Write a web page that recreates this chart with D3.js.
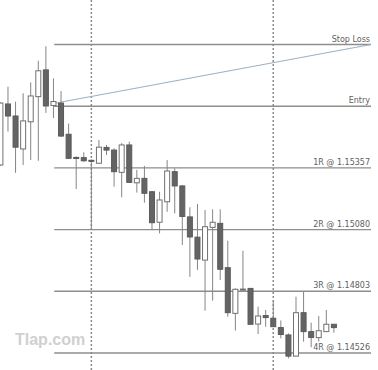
<!DOCTYPE html>
<html>
<head>
<meta charset="utf-8">
<script src="https://cdn.jsdelivr.net/npm/d3@7"></script>
<style>
  body { margin: 0; background: #fff; }
  svg { display: block; }
</style>
</head>
<body>
<svg id="chart" width="378" height="370"></svg>
<script>
// candles (EURUSD-like prices)
var opens  = [1.15370, 1.15644, 1.15590, 1.15442, 1.15564, 1.15677, 1.15797, 1.15637, 1.15648, 1.15508,
              1.15404, 1.15403, 1.15391, 1.15378, 1.15449, 1.15437, 1.15337, 1.15460, 1.15290, 1.15310,
              1.15250, 1.15113, 1.15205, 1.15340, 1.15276, 1.15137, 1.15046, 1.14943, 1.15090, 1.15108,
              1.14909, 1.14704, 1.14811, 1.14816, 1.14656, 1.14694, 1.14682, 1.14640, 1.14607, 1.14512,
              1.14707, 1.14622, 1.14595, 1.14622, 1.14655];
var highs  = [1.15652, 1.15722, 1.15654, 1.15692, 1.15741, 1.15838, 1.15903, 1.15759, 1.15702, 1.15556,
              1.15408, 1.15427, 1.15395, 1.15482, 1.15460, 1.15445, 1.15468, 1.15475, 1.15348, 1.15366,
              1.15253, 1.15250, 1.15392, 1.15355, 1.15280, 1.15180, 1.15195, 1.15168, 1.15171, 1.15171,
              1.15030, 1.14816, 1.14985, 1.14818, 1.14734, 1.14719, 1.14761, 1.14672, 1.14614, 1.14779,
              1.14801, 1.14662, 1.14692, 1.14719, 1.14656];
var lows   = [1.15366, 1.15520, 1.15335, 1.15370, 1.15392, 1.15389, 1.15604, 1.15581, 1.15496, 1.15397,
              1.15262, 1.15384, 1.15087, 1.15377, 1.15415, 1.15273, 1.15225, 1.15291, 1.15246, 1.15201,
              1.15078, 1.15063, 1.15160, 1.15153, 1.15011, 1.14868, 1.14899, 1.14716, 1.14761, 1.14854,
              1.14689, 1.14627, 1.14804, 1.14652, 1.14611, 1.14644, 1.14643, 1.14592, 1.14502, 1.14510,
              1.14577, 1.14552, 1.14577, 1.14620, 1.14617];
var closes = [1.15648, 1.15590, 1.15450, 1.15568, 1.15680, 1.15793, 1.15635, 1.15655, 1.15500, 1.15400,
              1.15401, 1.15389, 1.15389, 1.15450, 1.15437, 1.15340, 1.15460, 1.15292, 1.15310, 1.15243,
              1.15111, 1.15213, 1.15343, 1.15276, 1.15139, 1.15047, 1.14948, 1.15093, 1.15113, 1.14902,
              1.14707, 1.14812, 1.14813, 1.14655, 1.14692, 1.14685, 1.14644, 1.14609, 1.14512, 1.14707,
              1.14622, 1.14596, 1.14626, 1.14655, 1.14640];

// trade levels
var levelPrices = [1.15911, 1.15634, 1.15357, 1.15080, 1.14803, 1.14526];
var levelLabels = ["Stop Loss", "Entry", "1R @ 1.15357", "2R @ 1.15080", "3R @ 1.14803", "4R @ 1.14526"];

// dotted separators (candle index)
var separators = [12, 36];

var svg = d3.select("#chart"),
    width = +svg.attr("width"),
    height = +svg.attr("height");

var x = d3.scaleLinear().domain([0, 44]).range([0.4, 333.9]);
var y = d3.scaleLinear().domain([1.14526, 1.15911]).range([353, 44.5]);

var levelStart = 7.1, levelEnd = 48.9;
var bodyW = 5;

var candles = d3.range(opens.length).map(i => ({
  i: i, o: opens[i], h: highs[i], l: lows[i], c: closes[i]
}));

// level lines
svg.append("g").selectAll("line")
  .data(levelPrices)
  .enter().append("line")
    .attr("x1", x(levelStart))
    .attr("x2", x(levelEnd))
    .attr("y1", d => y(d))
    .attr("y2", d => y(d))
    .attr("stroke", "#8e8e8e")
    .attr("stroke-width", 1.4);

// dotted verticals
svg.append("g").selectAll("line")
  .data(separators)
  .enter().append("line")
    .attr("x1", d => x(d))
    .attr("x2", d => x(d))
    .attr("y1", 0)
    .attr("y2", height)
    .attr("stroke", "#8a8a8a")
    .attr("stroke-width", 1.5)
    .attr("stroke-dasharray", "2,2");

// risk line from entry candle up to stop loss
svg.append("line")
  .attr("x1", x(7))
  .attr("y1", y(1.15646))
  .attr("x2", x(levelEnd))
  .attr("y2", y(levelPrices[0]))
  .attr("stroke", "#9db2c2")
  .attr("stroke-width", 1.1);

// candles
var g = svg.append("g").selectAll("g")
  .data(candles)
  .enter().append("g");

g.append("line")
  .attr("x1", d => x(d.i))
  .attr("x2", d => x(d.i))
  .attr("y1", d => y(d.h))
  .attr("y2", d => y(d.l))
  .attr("stroke", "#858585")
  .attr("stroke-width", 1);

g.append("rect")
  .attr("x", d => x(d.i) - bodyW / 2)
  .attr("y", d => y(Math.max(d.o, d.c)))
  .attr("width", bodyW)
  .attr("height", d => Math.max(1, Math.abs(y(d.o) - y(d.c))))
  .attr("fill", d => d.c > d.o ? "#ffffff" : "#646464")
  .attr("stroke", d => d.c > d.o ? "#707070" : "#5a5a5a")
  .attr("stroke-width", 1);

// level labels
svg.append("g").selectAll("text")
  .data(levelPrices)
  .enter().append("text")
    .attr("x", 370)
    .attr("y", d => y(d) - 3)
    .attr("text-anchor", "end")
    .attr("font-family", "DejaVu Sans, sans-serif")
    .attr("font-size", 8)
    .attr("fill", "#5e5e5e")
    .text((d, i) => levelLabels[i]);

// watermark
svg.append("text")
  .attr("x", 15)
  .attr("y", 345)
  .attr("font-family", "Liberation Sans, Arial, sans-serif")
  .attr("font-weight", "bold")
  .attr("font-size", 16)
  .attr("fill", "#d0d0d0")
  .text("Tlap.com");
</script>
</body>
</html>
